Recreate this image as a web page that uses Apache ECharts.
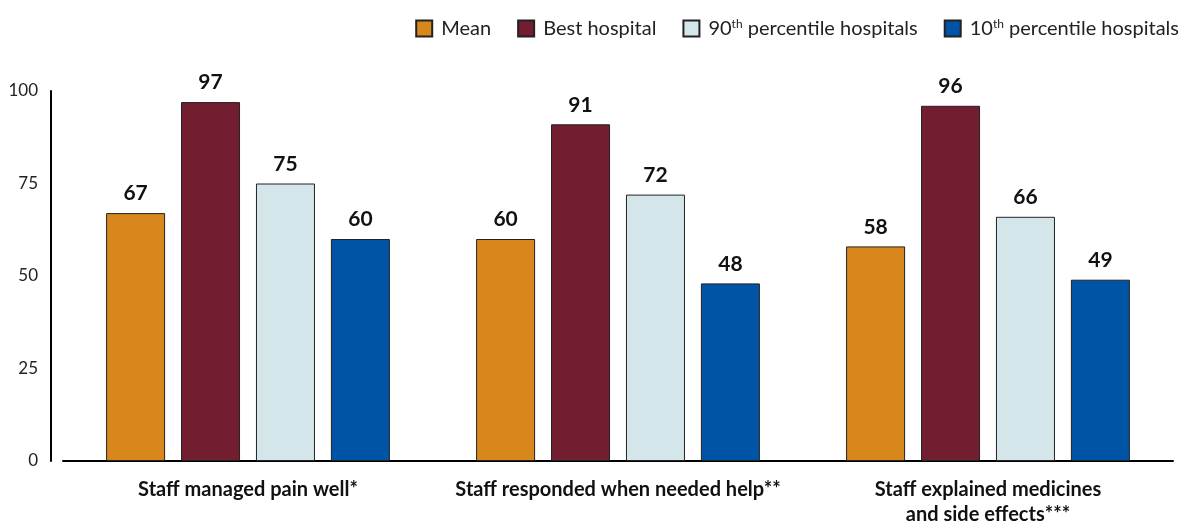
<!DOCTYPE html>
<html><head><meta charset="utf-8">
<script src="https://cdn.jsdelivr.net/npm/echarts@6/dist/echarts.min.js"></script>
<style>html,body{margin:0;padding:0;background:#fff}#c{width:1190px;height:527px}</style>
</head><body><div id="c"></div>
<script>
const categories = ['Staff managed pain well*', 'Staff responded when needed help**', 'Staff explained medicines\nand side effects***'];
const seriesNames = ['Mean', 'Best hospital', '90th percentile hospitals', '10th percentile hospitals'];
const meanVals = [67, 60, 58];
const bestVals = [97, 91, 96];
const p90Vals = [75, 72, 66];
const p10Vals = [60, 48, 49];
const yTicks = [0, 25, 50, 75, 100];
const colors = ['#D8871D', '#731D30', '#D5E6EA', '#0054A6'];
const allVals = [meanVals, bestVals, p90Vals, p10Vals];
const FONT = 'Lato';

const chart = echarts.init(document.getElementById('c'));
chart.setOption({
  animation: false,
  textStyle: { fontFamily: FONT },
  grid: { left: 63, right: 17, top: 91, bottom: 59, containLabel: false },
  legend: {
    top: 13, right: 6, itemWidth: 16, itemHeight: 16, itemGap: 26, icon: 'rect',
    textStyle: { fontSize: 20, color: '#222', fontFamily: FONT, padding: [0, 0, 0, 4],
      rich: { sup: { fontSize: 12, verticalAlign: 'top', padding: [0, 0, 9, 0], fontFamily: FONT, color: '#222' },
              n: { fontSize: 20, fontFamily: FONT, color: '#222' } } },
    formatter: function (name) {
      const m = name.match(/^(\d+)th (.*)$/);
      if (m) return '{n|' + m[1] + '}{sup|th}{n| ' + m[2] + '}';
      return name;
    },
    data: seriesNames
  },
  xAxis: {
    type: 'category', data: categories,
    axisLine: { lineStyle: { color: '#000', width: 2 } },
    axisTick: { show: false },
    axisLabel: { interval: 0, fontSize: 20, fontWeight: 'bold', color: '#111', lineHeight: 25, margin: 16, fontFamily: FONT }
  },
  yAxis: {
    type: 'value', min: 0, max: 100, interval: 25, offset: 12,
    axisLine: { show: true, lineStyle: { color: '#000', width: 2 } },
    axisTick: { show: false },
    splitLine: { show: false },
    axisLabel: { fontSize: 17, color: '#222', margin: 13, fontFamily: FONT, padding: [5, 0, 0, 0],
      formatter: v => yTicks.includes(v) ? String(v) : '' }
  },
  series: seriesNames.map((n, i) => ({
    name: n, type: 'bar', data: allVals[i], barWidth: 59, barGap: '27%',
    itemStyle: { color: colors[i], borderColor: '#222', borderWidth: 1 },
    label: { show: true, position: 'top', distance: 9, fontSize: 21, fontWeight: 'bold', color: '#111', fontFamily: FONT }
  }))
});
</script></body></html>
